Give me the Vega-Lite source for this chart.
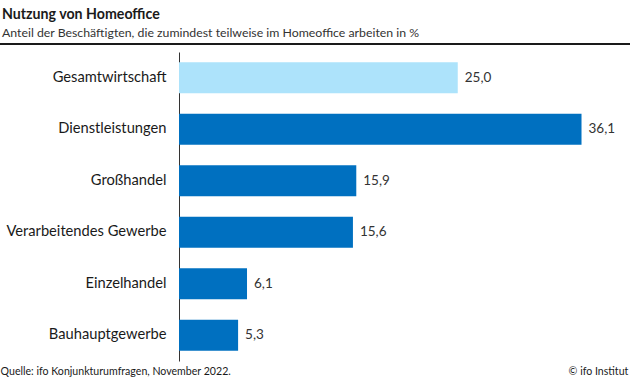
{
  "$schema": "https://vega.github.io/schema/vega-lite/v6.json",
  "width": 446,
  "height": 309,
  "autosize": {"type": "none"},
  "padding": {"left": 179, "top": 52, "right": 5, "bottom": 21},
  "background": "white",
  "config": {
    "view": {"stroke": null},
    "font": "Lato",
    "locale": {"number": {"decimal": ",", "thousands": ".", "grouping": [3], "currency": ["", " €"]}}
  },
  "title": {
    "text": "Nutzung von Homeoffice",
    "subtitle": "Anteil der Beschäftigten, die zumindest teilweise im Homeoffice arbeiten in %",
    "anchor": "start",
    "frame": "group",
    "dx": -177,
    "offset": 4,
    "font": "Lato",
    "fontSize": 14.2,
    "fontWeight": "bold",
    "color": "#1a1a1a",
    "subtitleFont": "Lato",
    "subtitleFontSize": 12.3,
    "subtitleColor": "#333333",
    "subtitlePadding": 4
  },
  "datasets": {
    "bars": [
      {"Bereich": "Gesamtwirtschaft", "Anteil": 25.0},
      {"Bereich": "Dienstleistungen", "Anteil": 36.1},
      {"Bereich": "Großhandel", "Anteil": 15.9},
      {"Bereich": "Verarbeitendes Gewerbe", "Anteil": 15.6},
      {"Bereich": "Einzelhandel", "Anteil": 6.1},
      {"Bereich": "Bauhauptgewerbe", "Anteil": 5.3}
    ],
    "footerLeft": [
      {"text": "Quelle: ifo Konjunkturumfragen, November 2022.", "pos": -16.0}
    ],
    "footerRight": [
      {"text": "© ifo Institut", "pos": 40.3}
    ]
  },
  "layer": [
    {
      "layer": [
        {
          "data": {"name": "bars"},
          "mark": {"type": "bar"},
          "encoding": {
            "y": {"field": "Bereich", "type": "nominal", "sort": null,
                  "scale": {"paddingInner": 0.4, "paddingOuter": 0.2},
                  "axis": {"title": null, "ticks": false, "domainColor": "#333333", "domainWidth": 1,
                           "labelFontSize": 14.7, "labelColor": "#1a1a1a", "labelPadding": 13, "labelFont": "Lato"}},
            "x": {"field": "Anteil", "type": "quantitative", "scale": {"domain": [0, 40], "nice": false}, "axis": null},
            "color": {"condition": {"test": "datum.Bereich === 'Gesamtwirtschaft'", "value": "#ade3fb"}, "value": "#0070c0"}
          }
        },
        {
          "data": {"name": "bars"},
          "mark": {"type": "text", "align": "left", "baseline": "middle", "dx": 7, "fontSize": 13.5, "color": "#333333", "font": "Lato"},
          "encoding": {
            "y": {"field": "Bereich", "type": "nominal", "sort": null},
            "x": {"field": "Anteil", "type": "quantitative"},
            "text": {"field": "Anteil", "type": "quantitative", "format": ".1f"}
          }
        }
      ]
    },
    {
      "layer": [
        {
          "data": {"values": [{}]},
          "mark": {"type": "rule", "color": "#1a1a1a", "strokeWidth": 2},
          "encoding": {
            "x": {"datum": -16.06, "type": "quantitative"},
            "x2": {"datum": 40.45},
            "y": {"datum": 1.026, "type": "quantitative", "scale": {"domain": [0, 1], "nice": false, "zero": false}, "axis": null}
          }
        },
        {
          "data": {"name": "footerLeft"},
          "mark": {"type": "text", "align": "left", "baseline": "middle", "fontSize": 10.6, "color": "#1a1a1a", "font": "Lato"},
          "encoding": {
            "x": {"field": "pos", "type": "quantitative"},
            "y": {"datum": -0.036, "type": "quantitative", "axis": null},
            "text": {"field": "text"}
          }
        },
        {
          "data": {"name": "footerRight"},
          "mark": {"type": "text", "align": "right", "baseline": "middle", "fontSize": 10.6, "color": "#1a1a1a", "font": "Lato"},
          "encoding": {
            "x": {"field": "pos", "type": "quantitative"},
            "y": {"datum": -0.036, "type": "quantitative", "axis": null},
            "text": {"field": "text"}
          }
        }
      ]
    }
  ],
  "resolve": {"scale": {"y": "independent"}, "axis": {"y": "independent"}}
}
